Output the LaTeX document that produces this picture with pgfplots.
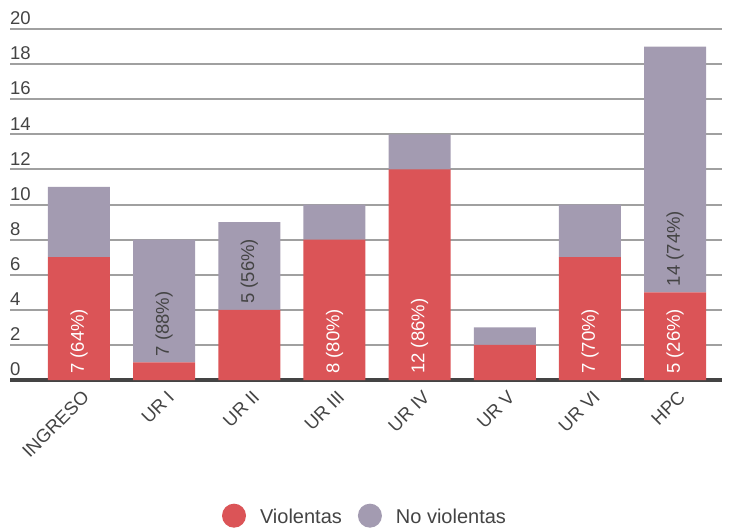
\documentclass[border=0pt]{standalone}
\usepackage{fontspec}
\setmainfont{Liberation Sans}
\usepackage{pgfplots}
\usepackage{pgfplotstable}
\pgfplotsset{compat=1.18}

\definecolor{violred}{RGB}{219,84,87}
\definecolor{nvgray}{RGB}{163,155,177}
\definecolor{txt}{RGB}{68,68,68}
\definecolor{gridc}{RGB}{160,160,160}

% casos por unidad: violentas / no violentas
\pgfplotstableread{
x V  NV
0 7  4
1 1  7
2 4  5
3 8  2
4 12 2
5 2  1
6 7  3
7 5  14
}\datos

\pgfplotsset{
  marco/.style={
    at={(10pt,148pt)}, anchor=south west,
    scale only axis, width=712pt, height=351pt,
    xmin=-0.81, xmax=7.55, ymin=0, ymax=20},
  etiq/.style={draw=none, mark=none, nodes near coords,
    point meta=explicit symbolic,
    every node near coord/.style={rotate=90, anchor=west, inner xsep=6pt,
      inner ysep=0pt, font=\fontsize{18.5}{22}\selectfont, text=#1}},
}

\begin{document}
\begin{tikzpicture}
\path[use as bounding box] (0pt,0pt) rectangle (739pt,528pt);
\begin{axis}[
    marco,
    ybar stacked, bar width=62pt,
    xtick={0,...,7},
    xticklabels={INGRESO,UR I,UR II,UR III,UR IV,UR V,UR VI,HPC},
    ytick={0,2,...,20},
    ymajorgrids,
    major grid style={gridc, line width=2pt},
    axis x line=bottom, axis y line=left,
    x axis line style={draw=txt, line width=4pt, -},
    y axis line style={draw=none},
    major tick length=0pt,
    tick label style={font=\fontsize{18.5}{22}\selectfont, text=txt},
    /pgf/number format/assume math mode=true,
    yticklabel style={anchor=south west, inner sep=0pt, yshift=4pt},
    xticklabel style={rotate=45, anchor=north east, inner sep=2pt, yshift=-6pt, xshift=-3pt},
    legend style={at={(0.4986,-0.3865)}, anchor=center, draw=none,
        font=\fontsize{20}{24}\selectfont, text=txt, legend columns=2,
        /tikz/every odd column/.append style={column sep=12pt},
        /tikz/every even column/.append style={column sep=14pt}},
    legend image code/.code={\fill[#1,draw=none] (12pt,1.5pt) circle (12pt);},
]
\addplot[fill=violred, draw=none] table[x=x, y=V] {\datos};
\addplot[fill=nvgray, draw=none] table[x=x, y=NV] {\datos};
\legend{Violentas, No violentas}
\end{axis}

% etiquetas dentro de las barras (base de cada tramo)
\begin{axis}[marco, hide axis]
\addplot[etiq=white] coordinates {
  (0,0) [7 (64\%)]
  (3,0) [8 (80\%)]
  (4,0) [12 (86\%)]
  (6,0) [7 (70\%)]
  (7,0) [5 (26\%)]
};
\addplot[etiq=txt] coordinates {
  (1,1) [7 (88\%)]
  (2,4) [5 (56\%)]
  (7,5) [14 (74\%)]
};
\end{axis}
\end{tikzpicture}
\end{document}
